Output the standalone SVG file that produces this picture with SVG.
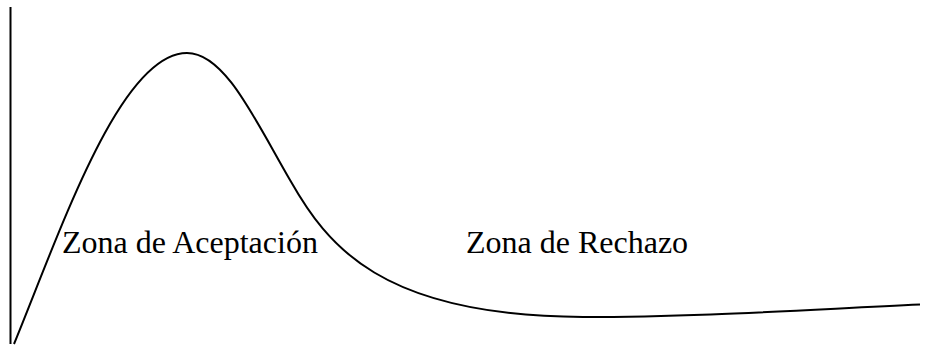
<svg xmlns="http://www.w3.org/2000/svg" width="934" height="349" viewBox="0 0 934 349">
<style>
.ln{fill:none;stroke:#000;stroke-width:2}
.t{font-family:"Liberation Serif","Times New Roman",serif;font-size:32px;fill:#000}
</style>
<rect width="934" height="349" fill="#fff"/>
<g id="axis"><line class="ln" x1="10.5" y1="7" x2="10.5" y2="344"/></g>
<g id="curve"><path class="ln" d="M14,344 C60,232 120,53 187,53 C225,53 255,120 290,180 C327,245 380,316 583,317 C700,317 800,310 920,304.5"/></g>
<g id="lbl1"><text class="t" x="62" y="253">Zona de Aceptación</text></g>
<g id="lbl2"><text class="t" x="466" y="253">Zona de Rechazo</text></g>
</svg>
